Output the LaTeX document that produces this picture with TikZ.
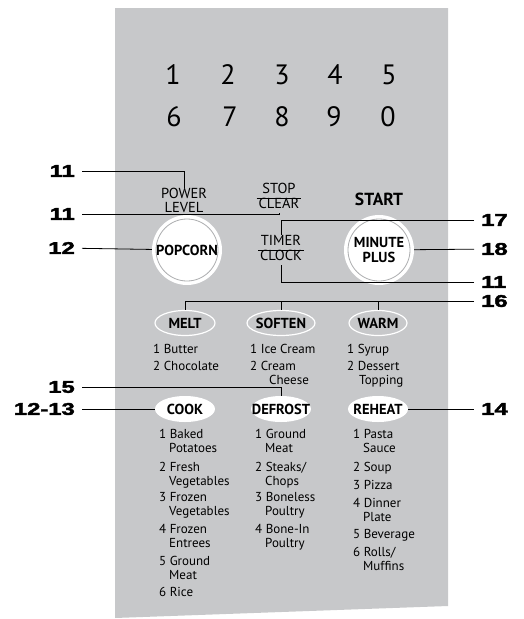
\documentclass[tikz,border=0pt]{standalone}
\usepackage{fontspec}
\usepackage{graphicx}
\usepackage{tikz}
\usetikzlibrary{shapes.geometric, positioning, calc}
\newfontfamily\panelfont{PT Sans}
\newfontfamily\calloutfont{Liberation Sans Bold}[FakeBold=2]
\definecolor{PanelGray}{RGB}{199, 200, 202}
\definecolor{RingGray}{RGB}{172, 173, 175}
\newcommand{\wide}[1]{\scalebox{1.4}[1]{#1}}
\newcommand{\ind}{\hspace*{10pt}}
\setlength{\arrayrulewidth}{0.8pt}

\begin{document}
\begin{tikzpicture}[x=1pt, y=-1pt,
  digit/.style={font=\panelfont\fontsize{28}{28}\selectfont, inner sep=0},
  key/.style={font=\panelfont\fontsize{14.5}{14}\selectfont, align=center, inner sep=0},
  boldkey/.style={font=\panelfont\bfseries\fontsize{14.5}{15}\selectfont, align=center, inner sep=0},
  roundkey/.style={circle, fill=white, minimum size=70pt, boldkey,
    path picture={\draw[RingGray, line width=0.8pt] (path picture bounding box.center) circle (31pt);}},
  ovalkey/.style={ellipse, draw=white, line width=1.2pt, minimum height=25pt, boldkey, inner xsep=-8pt},
  filledkey/.style={ellipse, fill=white, minimum height=26pt, boldkey, inner xsep=-8pt},
  item/.style={font=\panelfont\fontsize{13}{14}\selectfont, align=left, anchor=north west, inner sep=0},
  callout/.style={font=\calloutfont\fontsize{17}{17}\selectfont, inner xsep=7pt, inner ysep=0},
  lead/.style={line width=0.8pt}
]
  \useasboundingbox (0,0) rectangle (523,619);
  \fill[PanelGray] (115,8) -- (448,8) -- (448,606) -- (115,618) -- cycle;

  % number pad
  \node[digit] (d1) at (173,75)  {1};
  \node[digit] (d2) at (228,75)  {2};
  \node[digit] (d3) at (282,75)  {3};
  \node[digit] (d4) at (335,75)  {4};
  \node[digit] (d5) at (389,75)  {5};
  \node[digit] (d6) at (174,117) {6};
  \node[digit] (d7) at (230,117) {7};
  \node[digit] (d8) at (282,117) {8};
  \node[digit] (d9) at (334,117) {9};
  \node[digit] (d0) at (388,117) {0};

  % upper keys
  \node[key] (power) at (184,200) {POWER\\LEVEL};
  \node[key] (stopclear) at (279,198)
    {\begin{tabular}{@{\hspace{2pt}}c@{\hspace{2pt}}}STOP\\\hline CLEAR\end{tabular}};
  \node[boldkey, font=\panelfont\bfseries\fontsize{17.5}{17}\selectfont] (start) at (379,199) {START};
  \node[key] (timerclock) at (281,250)
    {\begin{tabular}{@{\hspace{2pt}}c@{\hspace{2pt}}}TIMER\\\hline CLOCK\end{tabular}};
  \node[roundkey] (popcorn) at (187,250) {POPCORN};
  \node[roundkey] (minute) at (379,250) {MINUTE\\PLUS};

  % melt / soften / warm
  \node[ovalkey, minimum width=60pt] (melt)   at (185,323) {MELT};
  \node[ovalkey, minimum width=68pt] (soften) at (281,323) {SOFTEN};
  \node[ovalkey, minimum width=58pt] (warm)   at (378,323) {WARM};
  \node[item] (melt1) at (153,344) {1 Butter};
  \node[item] (melt2) at (153,361) {2 Chocolate};
  \node[item] (soft1) at (250,344) {1 Ice Cream};
  \node[item] (soft2) at (250,361) {2 Cream\\\hspace*{19pt}Cheese};
  \node[item] (warm1) at (347,344) {1 Syrup};
  \node[item] (warm2) at (347,361) {2 Dessert\\\hspace*{12pt}Topping};

  % cook / defrost / reheat
  \node[filledkey, minimum width=60pt] (cook)    at (185,409) {COOK};
  \node[filledkey, minimum width=60pt] (defrost) at (281,409) {DEFROST};
  \node[filledkey, minimum width=60pt] (reheat)  at (378,409) {REHEAT};
  \node[item] (cook1) at (159,429) {1 Baked\\\ind Potatoes};
  \node[item] (cook2) at (159,462) {2 Fresh\\\ind Vegetables};
  \node[item] (cook3) at (159,492) {3 Frozen\\\ind Vegetables};
  \node[item] (cook4) at (159,524) {4 Frozen\\\ind Entrees};
  \node[item] (cook5) at (159,556) {5 Ground\\\ind Meat};
  \node[item] (cook6) at (159,587) {6 Rice};
  \node[item] (def1) at (255,429) {1 Ground\\\ind Meat};
  \node[item] (def2) at (255,462) {2 Steaks/\\\ind Chops};
  \node[item] (def3) at (255,492) {3 Boneless\\\ind Poultry};
  \node[item] (def4) at (255,524) {4 Bone-In\\\ind Poultry};
  \node[item] (reh1) at (353,429) {1 Pasta\\\ind Sauce};
  \node[item] (reh2) at (353,462) {2 Soup};
  \node[item] (reh3) at (353,480) {3 Pizza};
  \node[item] (reh4) at (353,498) {4 Dinner\\\ind Plate};
  \node[item] (reh5) at (353,529) {5 Beverage};
  \node[item] (reh6) at (353,547) {6 Rolls/\\\ind Muffins};

  % callouts
  \node[callout, anchor=east] (n11a)  at (82,171) {\wide{11}};
  \node[callout, anchor=east] (n11b)  at (82,214) {\wide{11}};
  \node[callout, anchor=east] (n12)   at (82,248) {\wide{12}};
  \node[callout, anchor=east] (n15)   at (82,387) {\wide{15}};
  \node[callout, anchor=east] (n1213) at (82,409) {\wide{12-13}};
  \node[callout, anchor=west] (n17)   at (474,220) {\wide{17}};
  \node[callout, anchor=west] (n18)   at (474,249) {\wide{18}};
  \node[callout, anchor=west] (n11c)  at (474,282) {\wide{11}};
  \node[callout, anchor=west] (n16)   at (474,301) {\wide{16}};
  \node[callout, anchor=west] (n14)   at (474,409) {\wide{14}};

  \draw[lead] (n11a) -| (power);
  \draw[lead] (n11b) -| (stopclear);
  \draw[lead] (n12) -- (popcorn);
  \draw[lead] (n17) -| (timerclock);
  \draw[lead] (minute) -- (n18);
  \draw[lead] (n11c) -| (timerclock);
  \draw[lead] (n16) -| (melt);
  \draw[lead] (soften) -- (soften |- n16);
  \draw[lead] (warm) -- (warm |- n16);
  \draw[lead] (n15) -| (defrost);
  \draw[lead] (n1213) -- (cook);
  \draw[lead] (reheat) -- (n14);
\end{tikzpicture}
\end{document}
